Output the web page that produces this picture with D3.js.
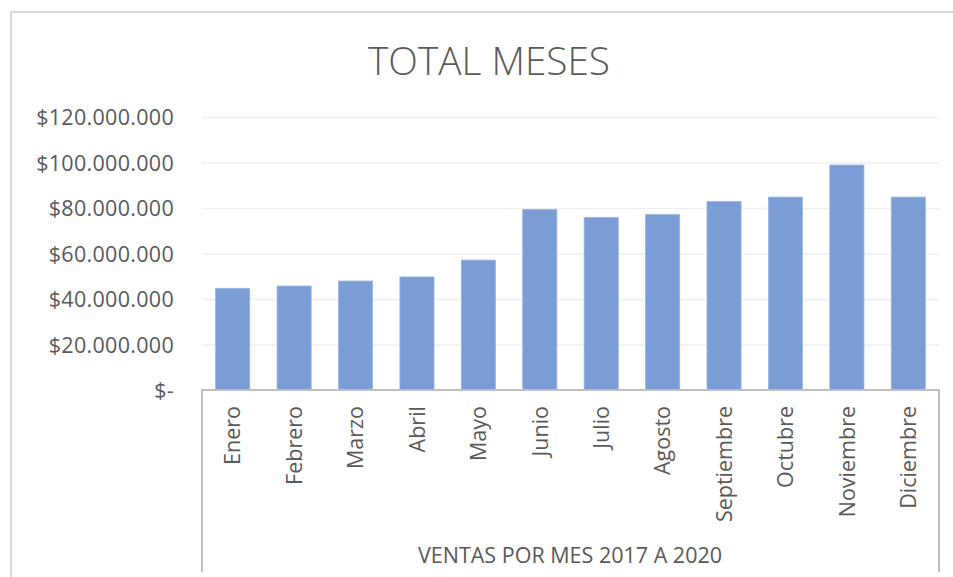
<!DOCTYPE html>
<html>
<head>
<meta charset="utf-8">
<script src="https://cdn.jsdelivr.net/npm/d3@7"></script>
<style>
  html, body { margin: 0; padding: 0; background: #fff; }
  svg { display: block; }
</style>
</head>
<body>
<svg id="chart" width="953" height="577"></svg>
<script>
const months = ["Enero","Febrero","Marzo","Abril","Mayo","Junio","Julio","Agosto","Septiembre","Octubre","Noviembre","Diciembre"];
const sales = [44700000, 45700000, 47900000, 49700000, 57100000, 79400000, 75900000, 77100000, 82900000, 84800000, 98900000, 84800000];
const yTicks = [0, 20000000, 40000000, 60000000, 80000000, 100000000, 120000000];
const title = "TOTAL MESES";
const axisTitle = "VENTAS POR MES 2017 A 2020";

const svg = d3.select("#chart");
const font = "'Open Sans', 'Noto Sans', sans-serif";
const textColor = "#595959";

const plot = { left: 202, right: 939, top: 117, bottom: 390 };

const x = d3.scaleBand().domain(months).range([plot.left, plot.right]).paddingInner(0.444).paddingOuter(0.222);
const y = d3.scaleLinear().domain([0, 120000000]).range([plot.bottom, plot.top]);

// outer chart border
svg.append("path").attr("d", "M11,577 L11,12 L953,12").attr("fill", "none")
  .attr("stroke", "#d9d9d9").attr("stroke-width", 2);

// title
svg.append("text").attr("x", 489).attr("y", 75).attr("text-anchor", "middle")
  .attr("font-family", "'Open Sans', sans-serif").attr("font-weight", 300)
  .attr("font-size", 38).attr("fill", textColor)
  .attr("textLength", 242).attr("lengthAdjust", "spacingAndGlyphs")
  .text(title);

// gridlines + y labels
const fmt = v => v === 0 ? "$-" : "$" + d3.format(",")(v).replace(/,/g, ".");
const yAxis = d3.axisLeft(y).tickValues(yTicks).tickSize(-(plot.right - plot.left)).tickPadding(28).tickFormat(fmt);
const gy = svg.append("g").attr("transform", `translate(${plot.left},0)`).call(yAxis);
gy.select(".domain").remove();
gy.selectAll(".tick line").attr("stroke", "#efefef").attr("stroke-width", 1.5)
  .filter(d => d === 0).remove();
gy.selectAll(".tick text").attr("font-family", font).attr("font-size", 21.5)
  .attr("letter-spacing", 0.3)
  .attr("fill", textColor).attr("dy", "0.36em");

// bars
svg.append("g").selectAll("rect").data(sales).join("rect")
  .attr("x", (d, i) => x(months[i]))
  .attr("y", d => y(d))
  .attr("width", x.bandwidth())
  .attr("height", d => y(0) - y(d))
  .attr("fill", "#7a9dd6")
  .attr("stroke", "#9cb7e2").attr("stroke-width", 0.8);

// category axis box
svg.append("path")
  .attr("d", `M${plot.left},572 L${plot.left},${plot.bottom} L${plot.right},${plot.bottom} L${plot.right},572`)
  .attr("fill", "none").attr("stroke", "#bfbfbf").attr("stroke-width", 2);

// category labels
const xAxis = d3.axisBottom(x).tickSize(0).tickPadding(0);
const gx = svg.append("g").attr("transform", `translate(0,${plot.bottom})`).call(xAxis);
gx.select(".domain").remove();
gx.selectAll(".tick text")
  .attr("font-family", font).attr("font-size", 21.5).attr("fill", textColor)
  .attr("text-anchor", "end")
  .attr("transform", "rotate(-90)")
  .attr("x", -16).attr("y", 0).attr("dy", "0.36em");

// axis title
svg.append("text").attr("x", 570).attr("y", 563).attr("text-anchor", "middle")
  .attr("font-family", font).attr("font-size", 21.5).attr("fill", textColor)
  .text(axisTitle);
</script>
</body>
</html>
